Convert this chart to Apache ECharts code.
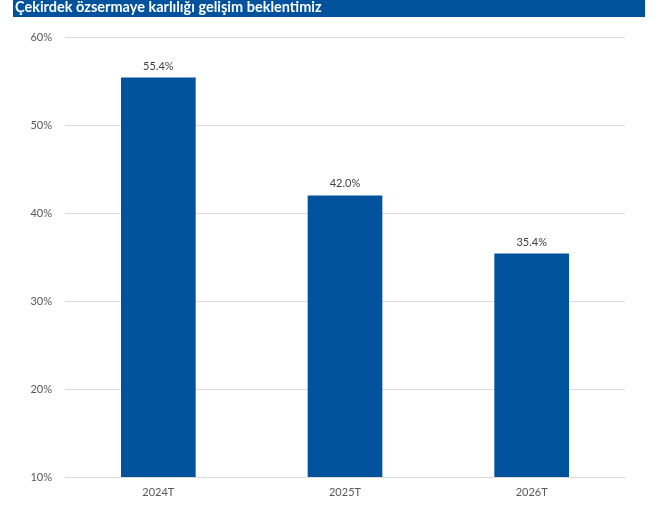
<!DOCTYPE html>
<html>
<head>
<meta charset="utf-8">
<script src="https://cdn.jsdelivr.net/npm/echarts@6/dist/echarts.min.js"></script>
<style>
  html, body { margin: 0; padding: 0; background: #ffffff; }
  #chart { width: 662px; height: 508px; }
</style>
</head>
<body>
<div id="chart"></div>
<script>
// Core return on equity outlook (%)
const titleText = 'Çekirdek özsermaye karlılığı gelişim beklentimiz';
const categories = ['2024T', '2025T', '2026T'];
const roeValues = [55.4, 42.0, 35.4];

const BLUE = '#00529C';
const chart = echarts.init(document.getElementById('chart'), null, { renderer: 'canvas' });

chart.setOption({
  animation: false,
  backgroundColor: '#ffffff',
  graphic: [
    {
      type: 'rect',
      left: 13, top: 0,
      shape: { width: 632, height: 17 },
      style: { fill: BLUE }
    },
    {
      type: 'text',
      left: 15, top: 0,
      style: {
        text: titleText,
        fill: '#ffffff',
        font: 'bold 14.5px Lato, "Open Sans", sans-serif'
      }
    }
  ],
  grid: { left: 65, right: 37, top: 37, bottom: 31 },
  xAxis: {
    type: 'category',
    data: categories,
    axisTick: { show: false },
    axisLine: { show: true, lineStyle: { color: '#d9d9d9', width: 1 } },
    axisLabel: { color: '#595959', fontSize: 11, fontFamily: 'Lato, sans-serif', margin: 10 }
  },
  yAxis: {
    type: 'value',
    min: 10, max: 60, interval: 10,
    axisLine: { show: false },
    axisTick: { show: false },
    splitLine: { lineStyle: { color: '#d9d9d9', width: 1 } },
    axisLabel: {
      color: '#595959', fontSize: 11, fontFamily: 'Lato, sans-serif', margin: 13,
      formatter: v => v + '%'
    }
  },
  series: [{
    type: 'bar',
    data: roeValues,
    barWidth: '40%',
    itemStyle: { color: BLUE },
    label: {
      show: true,
      position: 'top',
      distance: 6,
      color: '#404040',
      fontSize: 11,
      fontFamily: 'Lato, sans-serif',
      formatter: p => p.value.toFixed(1) + '%'
    }
  }]
});
</script>
</body>
</html>
